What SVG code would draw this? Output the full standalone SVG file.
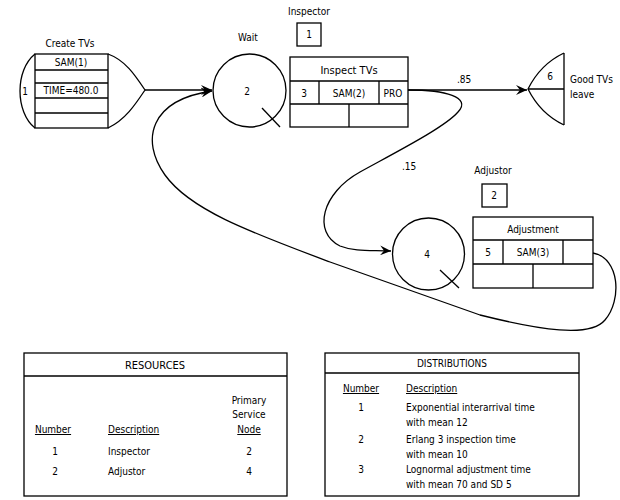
<svg xmlns="http://www.w3.org/2000/svg" width="620" height="500" viewBox="0 0 620 500">
<defs>
<marker id="arr" viewBox="0 0 12 10" refX="11" refY="5" markerWidth="12" markerHeight="10" orient="auto" markerUnits="userSpaceOnUse">
<path d="M0,0 L11,5 L0,10 L4,5 Z" fill="#000"/>
</marker>
<style>
.s{fill:none;stroke:#000;stroke-width:1.3}
.t{font-family:"Liberation Sans Narrow","DejaVu Sans Condensed","Liberation Sans",sans-serif;font-size:10px;fill:#000}
.m{text-anchor:middle}
.u{text-decoration:underline}
</style>
</defs>
<rect width="620" height="500" fill="#fff"/>

<g id="connectors">
<path class="s" d="M145,90 L212,90" marker-end="url(#arr)"/>
<path class="s" d="M408,90 L527,90" marker-end="url(#arr)"/>
<path class="s" d="M408,90 C445,90 472,97 458,112 C445,127 400,150 360,172 C322,193 312,232 340,246 C355,252 372,250 391,251" marker-end="url(#arr)"/>
<path class="s" d="M593,253 C620,258 622,300 605,320 C590,338 540,330 480,315 L330,262 C250,232 190,210 165,175 C140,140 150,100 212,91" marker-end="url(#arr)"/>
<text class="t" x="457" y="83">.85</text>
<text class="t" x="402" y="170">.15</text>
</g>

<g id="node1">
<text class="t m" x="70" y="47">Create TVs</text>
<path class="s" d="M35,54 C15,70 15,112 35,128"/>
<rect class="s" x="35" y="54" width="73" height="74"/>
<path class="s" d="M35,70 H108 M35,83 H108 M35,98 H108 M35,113 H108"/>
<path class="s" d="M108,54 C125,60 135,75 145,90 C135,105 125,120 108,128"/>
<text class="t m" x="25" y="95">1</text>
<text class="t m" x="71" y="66">SAM(1)</text>
<text class="t m" x="71" y="94">TIME=480.0</text>
</g>

<g id="node2">
<text class="t m" x="248" y="41">Wait</text>
<circle class="s" cx="249.5" cy="90.5" r="36.5"/>
<path class="s" d="M262,108 L280,127"/>
<text class="t m" x="247" y="95">2</text>
</g>

<g id="resource1">
<text class="t m" x="309" y="15">Inspector</text>
<rect class="s" x="297" y="23" width="24" height="23"/>
<text class="t m" x="309" y="38">1</text>
</g>

<g id="node3">
<rect class="s" x="290" y="57" width="118" height="70"/>
<path class="s" d="M290,81 H408 M290,104 H408 M319,81 V104 M379,81 V104 M349,104 V127"/>
<text class="t m" x="349" y="74" style="font-size:11px">Inspect TVs</text>
<text class="t m" x="304" y="97">3</text>
<text class="t m" x="349" y="97">SAM(2)</text>
<text class="t m" x="393" y="97">PRO</text>
</g>

<g id="node6">
<path class="s" d="M564,53 V125 M528,89 H564"/>
<path class="s" d="M564,53 C545,62 535,75 528,89 C535,103 545,116 564,125"/>
<text class="t m" x="550" y="80">6</text>
<text class="t" x="570" y="83">Good TVs</text>
<text class="t" x="570" y="98">leave</text>
</g>

<g id="resource2">
<text class="t m" x="493" y="174">Adjustor</text>
<rect class="s" x="482" y="184" width="25" height="23"/>
<text class="t m" x="494" y="199">2</text>
</g>

<g id="node4">
<circle class="s" cx="428.5" cy="254" r="36"/>
<path class="s" d="M440,270 L459,288"/>
<text class="t m" x="427" y="258">4</text>
</g>

<g id="node5">
<rect class="s" x="473" y="217" width="120" height="71"/>
<path class="s" d="M473,240 H593 M473,264 H593 M503,240 V264 M563,240 V264 M533,264 V288"/>
<text class="t m" x="533" y="233">Adjustment</text>
<text class="t m" x="488" y="256">5</text>
<text class="t m" x="533" y="256">SAM(3)</text>
</g>

<g id="resources">
<rect class="s" x="24" y="353" width="263" height="143"/>
<path class="s" d="M24,376 H287"/>
<text class="t m" x="155" y="369" style="font-size:11px">RESOURCES</text>
<text class="t m" x="249" y="404">Primary</text>
<text class="t m" x="249" y="418">Service</text>
<text class="t m u" x="249" y="433">Node</text>
<text class="t m u" x="53" y="433">Number</text>
<text class="t u" x="108" y="433">Description</text>
<text class="t m" x="55" y="455">1</text>
<text class="t" x="108" y="455">Inspector</text>
<text class="t m" x="249" y="455">2</text>
<text class="t m" x="55" y="475">2</text>
<text class="t" x="108" y="475">Adjustor</text>
<text class="t m" x="249" y="475">4</text>
</g>

<g id="distributions">
<rect class="s" x="325" y="353" width="254" height="143"/>
<path class="s" d="M325,373 H579"/>
<text class="t m" x="452" y="367">DISTRIBUTIONS</text>
<text class="t m u" x="361" y="392">Number</text>
<text class="t u" x="406" y="392">Description</text>
<text class="t m" x="361" y="411">1</text>
<text class="t" x="406" y="411">Exponential interarrival time</text>
<text class="t" x="406" y="426">with mean 12</text>
<text class="t m" x="361" y="443">2</text>
<text class="t" x="406" y="443">Erlang 3 inspection time</text>
<text class="t" x="406" y="458">with mean 10</text>
<text class="t m" x="361" y="473">3</text>
<text class="t" x="406" y="473">Lognormal adjustment time</text>
<text class="t" x="406" y="488">with mean 70 and SD 5</text>
</g>
</svg>
